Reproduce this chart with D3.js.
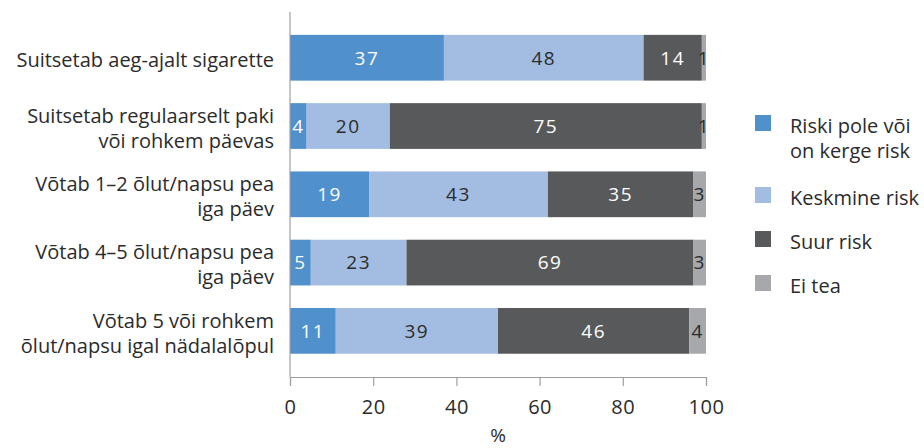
<!DOCTYPE html>
<html>
<head>
<meta charset="utf-8">
<script src="https://cdn.jsdelivr.net/npm/d3@7"></script>
<style>
  body { margin: 0; background: #fff; }
  text { font-family: "Open Sans", sans-serif; }
</style>
</head>
<body>
<svg></svg>
<script>
// DATA
var categories = [
    ['Suitsetab aeg-ajalt sigarette'],
    ['Suitsetab regulaarselt paki', 'või rohkem päevas'],
    ['Võtab 1\u20132 õlut/napsu pea', 'iga päev'],
    ['Võtab 4\u20135 õlut/napsu pea', 'iga päev'],
    ['Võtab 5 või rohkem', 'õlut/napsu igal nädalalõpul']
];
var seriesNames = ['Riski pole või on kerge risk', 'Keskmine risk', 'Suur risk', 'Ei tea'];
var legendLines = [['Riski pole või', 'on kerge risk'], ['Keskmine risk'], ['Suur risk'], ['Ei tea']];
var noRisk   = [37, 4, 19, 5, 11];
var midRisk  = [48, 20, 43, 23, 39];
var highRisk = [14, 75, 35, 69, 46];
var dontKnow = [1, 1, 3, 3, 4];
var xTicks = [0, 20, 40, 60, 80, 100];

var colors = ['#4f90cd', '#a3bde2', '#58595b', '#a7a8ab'];
var labelColors = ['#ffffff', '#2b2b2b', '#ffffff', '#2b2b2b'];

//SVG SETUP
var w = 924, h = 448;
var svg = d3.select('svg')
    .attr('width', w)
    .attr('height', h);

var x = d3.scaleLinear()
    .domain([0, 100])
    .range([290, 706]);

var y = d3.scaleBand()
    .domain(d3.range(categories.length))
    .range([23.6, 365])
    .paddingInner(0.33)
    .paddingOuter(0.165);

var rows = categories.map(function(c, i) {
    return { i: i, values: [noRisk[i], midRisk[i], highRisk[i], dontKnow[i]] };
});
var stack = d3.stack().keys([0, 1, 2, 3]).value(function(d, k) { return d.values[k]; });
var layers = stack(rows);

//BARS
var layerG = svg.selectAll('.layer')
    .data(layers)
    .enter().append('g')
    .attr('class', 'layer')
    .attr('fill', function(d) { return colors[d.key]; });

layerG.selectAll('rect')
    .data(function(d) { return d; })
    .enter().append('rect')
    .attr('x', function(d) { return x(d[0]); })
    .attr('y', function(d) { return y(d.data.i); })
    .attr('width', function(d) { return x(d[1]) - x(d[0]); })
    .attr('height', y.bandwidth());

layerG.selectAll('text')
    .data(function(d) { return d.map(function(s) { s.key = d.key; return s; }); })
    .enter().append('text')
    .attr('x', function(d) { return (x(d[0]) + x(d[1])) / 2; })
    .attr('y', function(d) { return y(d.data.i) + y.bandwidth() / 2; })
    .attr('dy', '0.36em')
    .attr('text-anchor', 'middle')
    .attr('font-size', 19)
    .attr('letter-spacing', 1.5)
    .attr('fill', function(d) { return labelColors[d.key]; })
    .text(function(d) { return d[1] - d[0]; });

//AXES
svg.append('line')
    .attr('x1', x(0)).attr('x2', x(0))
    .attr('y1', 12).attr('y2', 377)
    .attr('stroke', '#a0a0a0')
    .attr('stroke-width', 1.2);

var xAxis = svg.append('g')
    .attr('transform', 'translate(0, 377)')
    .call(d3.axisBottom(x).tickValues(xTicks).tickSize(9).tickPadding(14));
xAxis.select('.domain').attr('stroke', '#a0a0a0').attr('stroke-width', 1.2);
xAxis.selectAll('.tick line').attr('stroke', '#a0a0a0').attr('stroke-width', 1.2);
xAxis.selectAll('.tick text')
    .attr('font-family', '"Open Sans", sans-serif')
    .attr('font-size', 20)
    .attr('letter-spacing', 0.5)
    .attr('fill', '#2b2b2b');

svg.append('text')
    .attr('x', (x(0) + x(100)) / 2)
    .attr('y', 442)
    .attr('text-anchor', 'middle')
    .attr('font-size', 19)
    .attr('fill', '#2b2b2b')
    .text('%');

//CATEGORY LABELS
var catG = svg.selectAll('.cat')
    .data(categories)
    .enter().append('text')
    .attr('class', 'cat')
    .attr('text-anchor', 'end')
    .attr('font-size', 20)
    .attr('fill', '#2b2b2b');

catG.selectAll('tspan')
    .data(function(d, i) { return d.map(function(line, j) { return { line: line, j: j, n: d.length, i: i }; }); })
    .enter().append('tspan')
    .attr('x', 274)
    .attr('y', function(d) {
        var c = y(d.i) + y.bandwidth() / 2 + 2;
        return c + (d.j - (d.n - 1) / 2) * 25;
    })
    .attr('dy', '0.36em')
    .text(function(d) { return d.line; });

//LEGEND
var legendY = [123, 195, 239, 283];
var legend = svg.selectAll('.legend')
    .data(legendLines)
    .enter().append('g')
    .attr('class', 'legend')
    .attr('transform', function(d, i) { return 'translate(755,' + legendY[i] + ')'; });

legend.append('rect')
    .attr('y', -8)
    .attr('width', 16)
    .attr('height', 16)
    .attr('fill', function(d, i) { return colors[i]; });

legend.append('text')
    .attr('font-size', 20)
    .attr('fill', '#2b2b2b')
    .selectAll('tspan')
    .data(function(d) { return d; })
    .enter().append('tspan')
    .attr('x', 35)
    .attr('y', function(d, j) { return 3 + j * 25; })
    .attr('dy', '0.36em')
    .text(function(d) { return d; });
</script>
</body>
</html>
